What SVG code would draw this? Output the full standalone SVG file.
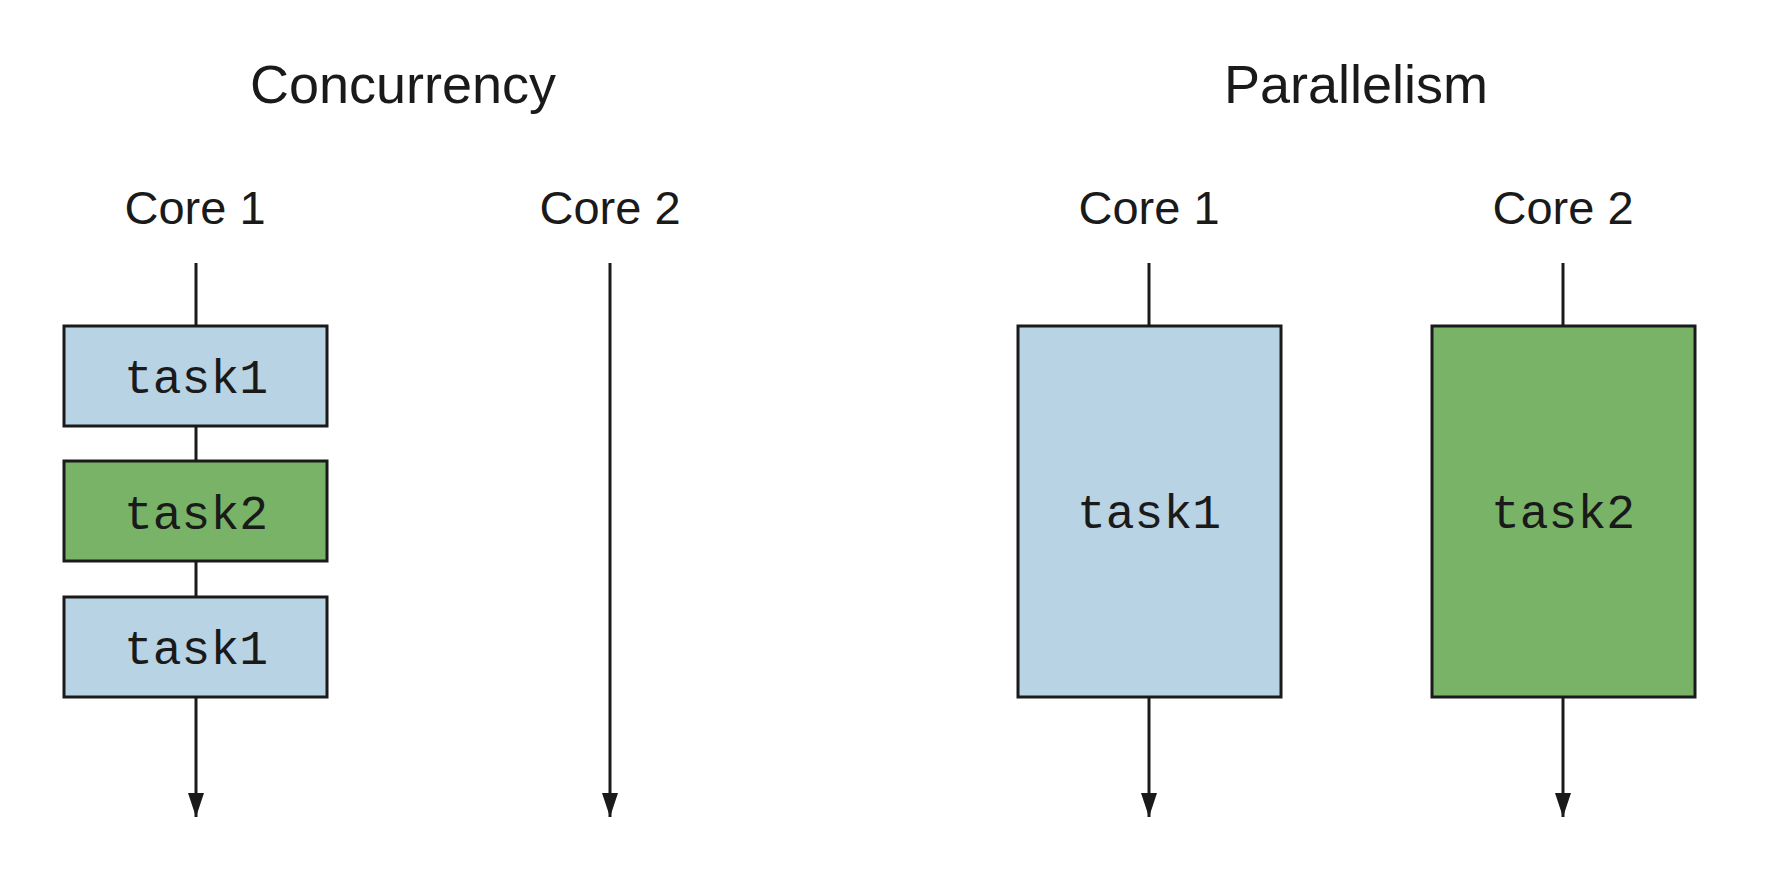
<svg xmlns="http://www.w3.org/2000/svg" width="1768" height="870" viewBox="0 0 1768 870">
<style>
.title{font-family:"Liberation Sans",Arial,sans-serif;font-size:54px;fill:#1a1a1a;text-anchor:middle}
.core{font-family:"Liberation Sans",Arial,sans-serif;font-size:47px;fill:#1a1a1a;text-anchor:middle}
.task{font-family:"Liberation Mono","Courier New",monospace;font-size:48px;fill:#1a1a1a;text-anchor:middle}
.blue{fill:#b8d3e4;stroke:#1a1a1a;stroke-width:3}
.green{fill:#78b368;stroke:#1a1a1a;stroke-width:3}
.ln{stroke:#1a1a1a;stroke-width:3;fill:none}
</style>
<defs>
<marker id="ah" markerUnits="userSpaceOnUse" markerWidth="26" markerHeight="16" refX="24" refY="8" orient="auto" viewBox="0 0 26 16">
<path d="M0,0 L24,8 L0,16 Z" fill="#1a1a1a"/>
</marker>
</defs>
<rect width="1768" height="870" fill="#ffffff"/>
<text class="title" x="403" y="103">Concurrency</text>
<text class="title" x="1356" y="103">Parallelism</text>
<text class="core" x="195" y="224">Core 1</text>
<text class="core" x="610" y="224">Core 2</text>
<text class="core" x="1149" y="224">Core 1</text>
<text class="core" x="1563" y="224">Core 2</text>
<g id="connectors">
<line class="ln" x1="196" y1="263" x2="196" y2="326"/>
<line class="ln" x1="196" y1="426" x2="196" y2="461"/>
<line class="ln" x1="196" y1="561" x2="196" y2="597"/>
<line class="ln" x1="196" y1="697" x2="196" y2="817" marker-end="url(#ah)"/>
<line class="ln" x1="610" y1="263" x2="610" y2="817" marker-end="url(#ah)"/>
<line class="ln" x1="1149" y1="263" x2="1149" y2="326"/>
<line class="ln" x1="1149" y1="697" x2="1149" y2="817" marker-end="url(#ah)"/>
<line class="ln" x1="1563" y1="263" x2="1563" y2="326"/>
<line class="ln" x1="1563" y1="697" x2="1563" y2="817" marker-end="url(#ah)"/>
</g>
<g id="c-task1a"><rect class="blue" x="64" y="326" width="263" height="100"/><text class="task" x="196" y="393">task1</text></g>
<g id="c-task2"><rect class="green" x="64" y="461" width="263" height="100"/><text class="task" x="196" y="529">task2</text></g>
<g id="c-task1b"><rect class="blue" x="64" y="597" width="263" height="100"/><text class="task" x="196" y="664">task1</text></g>
<g id="p-task1"><rect class="blue" x="1018" y="326" width="263" height="371"/><text class="task" x="1149" y="528">task1</text></g>
<g id="p-task2"><rect class="green" x="1432" y="326" width="263" height="371"/><text class="task" x="1563" y="528">task2</text></g>
</svg>
